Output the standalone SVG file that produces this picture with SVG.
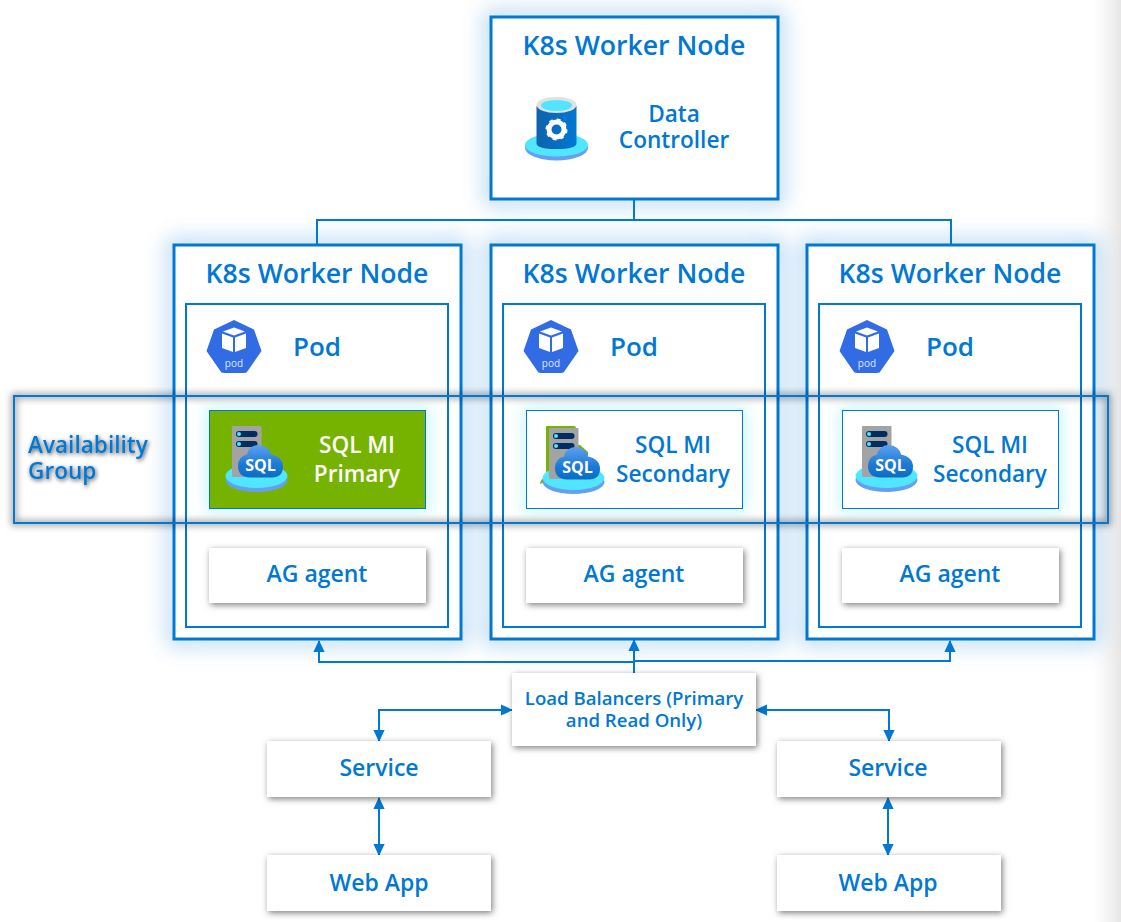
<svg xmlns="http://www.w3.org/2000/svg" xmlns:xlink="http://www.w3.org/1999/xlink" width="1121" height="922" viewBox="0 0 1121 922">
<style>
text{font-family:"Open Sans","Noto Sans","Liberation Sans",sans-serif;fill:#0078d4;text-anchor:middle;font-weight:600}
.h{font-size:26.6px}.p{font-size:26px}.m{font-size:22.6px}.s{font-size:23px}.xs{font-size:18.6px}
.w{fill:#fff;stroke:#0078d4;stroke-width:3}
.in{fill:none;stroke:#0078d4;stroke-width:2}
.c{fill:#fff;filter:url(#sh)}
.sq{stroke:#0078d4;stroke-width:1;fill:#fff}
.l{fill:none;stroke:#0078d4;stroke-width:2}
</style>
<defs>
<linearGradient id="edge" x1="0" x2="1" y1="0" y2="0"><stop offset="0" stop-color="#f0f0f0" stop-opacity="0"/><stop offset="1" stop-color="#e6e6e6"/></linearGradient>
<linearGradient id="blue" x1="0" x2="1" y1="0" y2="0"><stop offset="0" stop-color="#0e62ad"/><stop offset="1" stop-color="#0078d4"/></linearGradient>
<linearGradient id="cloud" x1="0" x2="0" y1="0" y2="1"><stop offset="0" stop-color="#5ea0ef"/><stop offset=".6" stop-color="#1b7ad6"/><stop offset="1" stop-color="#0c6cc4"/></linearGradient>
<filter id="glow" x="-20%" y="-20%" width="140%" height="140%"><feGaussianBlur stdDeviation="11"/></filter>
<filter id="cy" x="-15%" y="-25%" width="130%" height="150%"><feGaussianBlur stdDeviation="7"/></filter>
<filter id="sh" x="-10%" y="-20%" width="120%" height="150%"><feDropShadow dx="1.500" dy="2" stdDeviation="3" flood-color="#000" flood-opacity=".5"/></filter>
<filter id="ag" x="-3%" y="-20%" width="106%" height="140%"><feGaussianBlur stdDeviation="3.5"/></filter>
<filter id="ts" x="-10%" y="-20%" width="120%" height="150%"><feDropShadow dx="1" dy="1.5" stdDeviation="2" flood-color="#000" flood-opacity=".7"/></filter>
<marker id="a" markerWidth="6" markerHeight="6" refX="5.5" refY="3" orient="auto-start-reverse" markerUnits="strokeWidth"><path d="M0 0.2L6 3L0 5.8Z" fill="#0078d4"/></marker>
<symbol id="pod" viewBox="0 0 56 56" overflow="visible">
<path d="M28 0L48 9.5L55.5 31L42 50.500Q41 53 38 53H18Q15 53 14 50.500L.5 31L8 9.500Z" fill="#326ce5"/>
<path d="M28 7.500L39 11.500L28 15.500L17 11.500Z" fill="#fff"/>
<path d="M16 13.500L27 17.500V32L16 28Z" fill="#fff"/>
<path d="M40 13.500L29 17.500V32L40 28Z" fill="#fff"/>
<text x="28" y="47" style="font-size:10px;fill:#dfe8fb;font-weight:400">pod</text>
</symbol>
<symbol id="sql" viewBox="0 0 64 66" overflow="visible">
<ellipse cx="31.500" cy="54" rx="31" ry="12" fill="#659ff2"/>
<ellipse cx="31.500" cy="50" rx="31" ry="12" fill="#50e6ff"/>
<rect x="7" y="0" width="29.500" height="51" rx="1" fill="#a3a3a3"/>
<rect x="11" y="5" width="21.500" height="6" rx="3" fill="#002d62"/><circle cx="14" cy="8" r="2" fill="#50e6ff"/>
<rect x="11" y="15" width="21.500" height="6" rx="3" fill="#002d62"/><circle cx="14" cy="18" r="2" fill="#50e6ff"/>
<path d="M25 51.500Q13 51 13 40Q13 30.500 22 28.500Q24 19.500 33.500 19Q44 19.500 46 28.500Q58 31 58 41Q58 51 47 51.500Z" fill="url(#cloud)"/>
<text x="35.500" y="45" style="font-size:16px;fill:#fff;font-weight:700">SQL</text>
</symbol>
</defs>
<rect width="1121" height="922" fill="#fff"/>
<rect x="1092" y="0" width="29" height="922" fill="url(#edge)"/>

<g id="glows" fill="none" stroke="#0078d4" stroke-width="9" stroke-opacity=".45" filter="url(#glow)">
<rect x="491" y="17" width="287" height="182"/>
<rect x="174" y="245" width="287" height="394"/>
<rect x="491" y="245" width="287" height="394"/>
<rect x="807" y="245" width="287" height="394"/>
</g>

<g id="connectors">
<path class="l" d="M634 199V220M317 245V220H951V245"/>
<path class="l" d="M634 673V640" marker-end="url(#a)"/>
<path class="l" d="M634 662H319V641" marker-end="url(#a)"/>
<path class="l" d="M634 661H950V641" marker-end="url(#a)"/>
<path class="l" d="M379 741V710H512" marker-start="url(#a)" marker-end="url(#a)"/>
<path class="l" d="M889 741V710H756" marker-start="url(#a)" marker-end="url(#a)"/>
<path class="l" d="M379 798V855" marker-start="url(#a)" marker-end="url(#a)"/>
<path class="l" d="M888 798V855" marker-start="url(#a)" marker-end="url(#a)"/>
</g>

<g id="node-controller">
<rect class="w" x="491" y="17" width="287" height="182"/>
<text class="h" x="634" y="55">K8s Worker Node</text>
<ellipse cx="556.500" cy="148" rx="31.500" ry="12.500" fill="#659ff2"/>
<ellipse cx="556.500" cy="145" rx="31.500" ry="11.500" fill="#50e6ff"/>
<path d="M536.500 106V143Q536.500 149 556.500 149Q576.500 149 576.500 143V106Z" fill="url(#blue)"/>
<ellipse cx="556.500" cy="105" rx="20" ry="8" fill="#e0e0e0"/>
<ellipse cx="556.500" cy="105.500" rx="15.500" ry="5.500" fill="#50e6ff"/>
<circle cx="556.500" cy="129.500" r="7.500" fill="none" stroke="#fff" stroke-width="5"/>
<circle cx="556.500" cy="129.500" r="9.500" fill="none" stroke="#fff" stroke-width="3" stroke-dasharray="3.500 3.960"/>
<text class="m" x="674" y="122">Data</text>
<text class="m" x="674" y="148">Controller</text>
</g>

<g id="node-worker-1">
<rect class="w" x="174" y="245" width="287" height="394"/>
<text class="h" x="317" y="283">K8s Worker Node</text>
<rect class="in" x="186" y="304" width="262" height="323"/>
<use href="#pod" x="206" y="320" width="56" height="56"/>
<text class="p" x="317" y="356">Pod</text>
</g>
<g id="node-worker-2">
<rect class="w" x="491" y="245" width="287" height="394"/>
<text class="h" x="634" y="283">K8s Worker Node</text>
<rect class="in" x="503" y="304" width="262" height="323"/>
<use href="#pod" x="523" y="320" width="56" height="56"/>
<text class="p" x="634" y="356">Pod</text>
</g>
<g id="node-worker-3">
<rect class="w" x="807" y="245" width="287" height="394"/>
<text class="h" x="950" y="283">K8s Worker Node</text>
<rect class="in" x="819" y="304" width="262" height="323"/>
<use href="#pod" x="839" y="320" width="56" height="56"/>
<text class="p" x="950" y="356">Pod</text>
</g>

<g id="availability-group">
<rect x="14" y="396" width="1094" height="127" fill="none" stroke="#000" stroke-opacity=".42" stroke-width="5" filter="url(#ag)"/>
<rect x="14" y="396" width="1094" height="127" fill="none" stroke="#0078d4" stroke-width="2"/>
<text class="m" x="28" y="453" filter="url(#ts)" style="text-anchor:start">Availability</text>
<text class="m" x="28" y="479" filter="url(#ts)" style="text-anchor:start">Group</text>
</g>

<g id="sql-glows" fill="#50e6ff" fill-opacity=".3" filter="url(#cy)">
<rect x="205" y="407" width="225" height="105"/>
<rect x="523" y="407" width="224" height="105"/>
<rect x="839" y="407" width="224" height="105"/>
</g>

<g id="sql-primary">
<rect x="209.500" y="410.500" width="216" height="98" fill="#76b300" stroke="#0078d4"/>
<use href="#sql" x="225" y="426" width="64" height="66"/>
<text class="m" x="357" y="453" style="fill:#fff">SQL MI</text>
<text class="m" x="357" y="482" style="fill:#fff">Primary</text>
</g>
<g id="sql-secondary-1">
<rect class="sq" x="526.500" y="410.500" width="216" height="98"/>
<path d="M546 480V427Q546 426 547 426H574Q576 426 576 428V445H580L588 452V470H552L545 482L540 484Q540 480 546 476Z" fill="#76b300"/>
<use href="#sql" x="542" y="428" width="64" height="66"/>
<text class="m" x="673" y="453">SQL MI</text>
<text class="m" x="673" y="482">Secondary</text>
</g>
<g id="sql-secondary-2">
<rect class="sq" x="842.500" y="410.500" width="216" height="98"/>
<use href="#sql" x="855" y="426" width="64" height="66"/>
<text class="m" x="990" y="453">SQL MI</text>
<text class="m" x="990" y="482">Secondary</text>
</g>

<g id="ag-agent-1"><rect class="c" x="209" y="548" width="217" height="55"/><text class="s" x="317" y="582">AG agent</text></g>
<g id="ag-agent-2"><rect class="c" x="526" y="548" width="217" height="55"/><text class="s" x="634" y="582">AG agent</text></g>
<g id="ag-agent-3"><rect class="c" x="842" y="548" width="217" height="55"/><text class="s" x="950" y="582">AG agent</text></g>

<g id="load-balancers"><rect class="c" x="512" y="673" width="244" height="73"/>
<text class="xs" x="634" y="705">Load Balancers (Primary</text>
<text class="xs" x="634" y="727">and Read Only)</text></g>
<g id="service-1"><rect class="c" x="267" y="741" width="224" height="56"/><text class="s" x="379" y="776">Service</text></g>
<g id="service-2"><rect class="c" x="777" y="741" width="224" height="56"/><text class="s" x="888" y="776">Service</text></g>
<g id="webapp-1"><rect class="c" x="267" y="855" width="224" height="56"/><text class="s" x="379" y="891">Web App</text></g>
<g id="webapp-2"><rect class="c" x="777" y="855" width="224" height="56"/><text class="s" x="888" y="891">Web App</text></g>
</svg>
